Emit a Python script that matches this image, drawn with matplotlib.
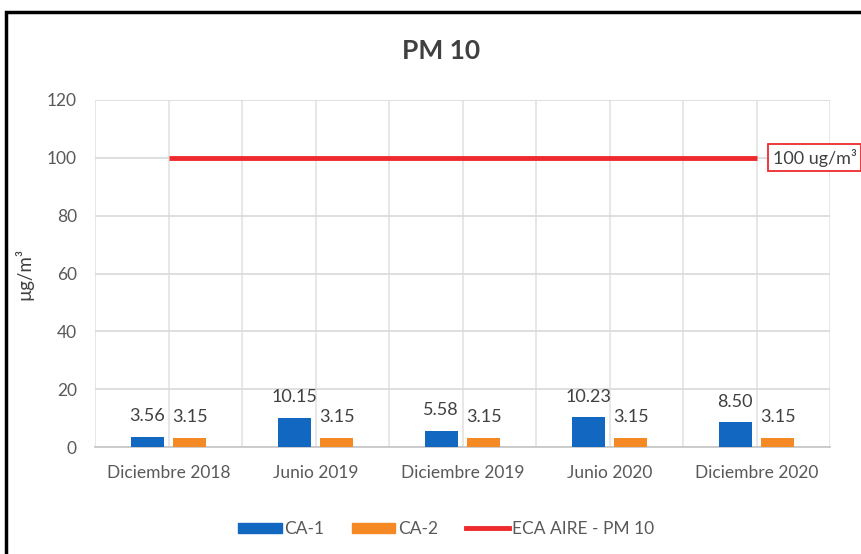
import matplotlib
matplotlib.use("Agg")
import matplotlib.pyplot as plt
from matplotlib.patches import Patch, Rectangle
from matplotlib.lines import Line2D
import numpy as np

plt.rcParams['font.family'] = ['Lato', 'DejaVu Sans']

# datos
periodos = ["Diciembre 2018", "Junio 2019", "Diciembre 2019", "Junio 2020", "Diciembre 2020"]
ca1 = [3.56, 10.15, 5.58, 10.23, 8.50]
ca2 = [3.15, 3.15, 3.15, 3.15, 3.15]
eca = [100, 100, 100, 100, 100]
yticks = [0, 20, 40, 60, 80, 100, 120]

gris = '#595959'
azul = '#1268C0'
naranja = '#F58A25'
rojo = '#EE2A2E'

fig = plt.figure(figsize=(8.61, 5.54), dpi=100)
ax = fig.add_axes([95/861, 1 - 447/554, (830 - 95)/861, (447 - 100)/554])

x = np.arange(len(periodos))
w = 0.225
off = 0.146
ax.bar(x - off, ca1, w, color=azul, zorder=3)
ax.bar(x + off, ca2, w, color=naranja, zorder=3)
ax.plot(x, eca, color=rojo, lw=3.5, zorder=4, solid_capstyle='butt')

# etiquetas de datos
for xi, v in zip(x - off, ca1):
    ax.annotate(f"{v:.2f}", (xi, v), xytext=(0, 9), textcoords='offset points',
                ha='center', va='bottom', fontsize=13, color='#404040')
for xi, v in zip(x + off, ca2):
    ax.annotate(f"{v:.2f}", (xi, v), xytext=(0, 9), textcoords='offset points',
                ha='center', va='bottom', fontsize=13, color='#404040')

ax.text(x[-1] + 0.11, eca[-1], "100 ug/m³", ha='left', va='center', fontsize=13,
        color='#404040', clip_on=False, zorder=5,
        bbox=dict(boxstyle='square,pad=0.25', facecolor='white', edgecolor=rojo, lw=1.3))

ax.set_xlim(-0.5, len(periodos) - 0.5)
ax.set_ylim(0, 120)
ax.set_yticks(yticks)
ax.set_xticks(x)
ax.set_xticklabels(periodos)
ax.set_xticks(np.arange(-0.5, len(periodos), 1.0), minor=True)
ax.tick_params(axis='both', which='both', length=0, labelsize=12.5, colors=gris)
ax.tick_params(axis='y', pad=13)
ax.tick_params(axis='x', pad=13)
ax.grid(axis='y', color='#D9D9D9', lw=1.2, zorder=0)
ax.grid(axis='x', which='both', color='#E3E3E3', lw=1.2, zorder=0)
for s in ['top', 'right', 'left']:
    ax.spines[s].set_visible(False)
ax.spines['bottom'].set_color('#C8C8C8')
ax.spines['bottom'].set_linewidth(1.3)

ax.set_ylabel("µg/m³", fontsize=13.5, color='#404040', labelpad=10)
fig.text(441/861, 1 - 51/554, "PM 10", ha='center', va='center', fontsize=19,
         fontweight='bold', color='#404040')

handles = [Patch(color=azul), Patch(color=naranja), Line2D([], [], color=rojo, lw=3.5)]
fig.legend(handles, ["CA-1", "CA-2", "ECA AIRE - PM 10"], loc='center',
           bbox_to_anchor=(446/861, 1 - 529/554), ncol=3, frameon=False,
           fontsize=12.5, labelcolor=gris, handlelength=2.5, handleheight=0.5,
           handletextpad=0.15, columnspacing=1.6)

# marco negro
fig.add_artist(Rectangle((6/861, -0.2), 1.2, 1.2 - 12/554, transform=fig.transFigure,
                         fill=False, edgecolor='black', lw=2.5, clip_on=False))

fig.savefig("out.png", dpi=100)
